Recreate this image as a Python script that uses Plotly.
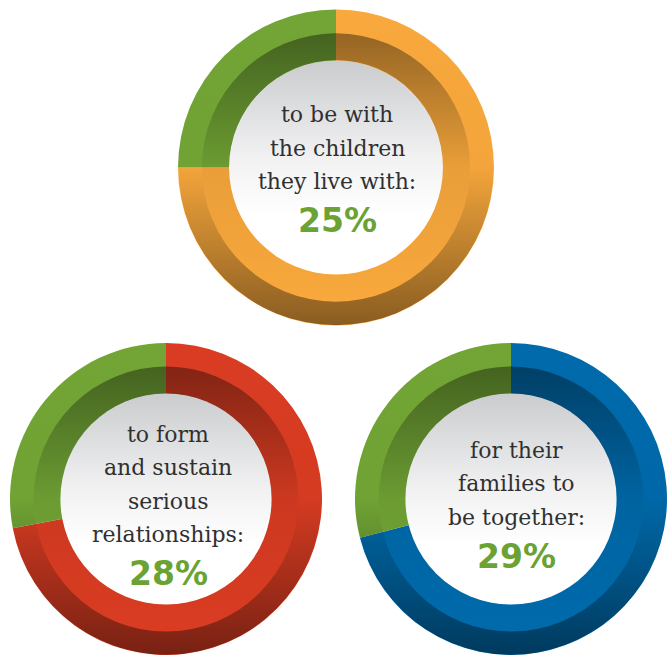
import base64
import plotly.graph_objects as go

W, H = 667, 655

# ---- data -------------------------------------------------------------
captions = [
    ["to be with", "the children", "they live with:"],
    ["to form", "and sustain", "serious", "relationships:"],
    ["for their", "families to", "be together:"],
]
shares = [25, 28, 29]                     # percent answering
rest = [100 - s for s in shares]
share_labels = [f"{s}%" for s in shares]

ring_colors = ["#f8a83c", "#d93c22", "#006aab"]
share_color = "#72a535"
pct_text_color = "#6aa333"
caption_color = "#303030"

# ---- layout (pixel boxes of each ring) ---------------------------------
boxes = [  # x0, x1, y0 (top), y1 (bottom)
    (178, 494, 9.5, 325.5),
    (7, 325, 343, 655),
    (355, 667, 343, 655),
]
first_line_y = [115, 434, 450]
pct_y = [220.5, 573.5, 556.5]
text_x = [337, 168, 516]
line_step = 33.5

HOLE = 107 / 159      # white centre
MID = 135 / 159       # split between inner and outer band


def ring_path(c, r):
    return (f"M{c - r:.2f},{c:.2f} a{r:.2f},{r:.2f} 0 1,0 {2 * r:.2f},0 "
            f"a{r:.2f},{r:.2f} 0 1,0 {-2 * r:.2f},0 Z ")


def shading_uri(R):
    """Soft vertical shading for the two bands plus the grey-to-white centre."""
    d = 2 * R
    r_in, r_mid = R * HOLE, R * MID
    ro = R - 0.4
    svg = f"""<svg xmlns="http://www.w3.org/2000/svg" width="{d:.2f}" height="{d:.2f}" viewBox="0 0 {d:.2f} {d:.2f}">
<defs>
<linearGradient id="gi" gradientUnits="userSpaceOnUse" x1="0" y1="{R - r_mid:.2f}" x2="0" y2="{R + r_mid:.2f}">
<stop offset="0" stop-color="#000" stop-opacity="0.40"/>
<stop offset="0.5" stop-color="#000" stop-opacity="0.06"/>
<stop offset="1" stop-color="#000" stop-opacity="0"/>
</linearGradient>
<linearGradient id="go" gradientUnits="userSpaceOnUse" x1="0" y1="0" x2="0" y2="{d:.2f}">
<stop offset="0" stop-color="#000" stop-opacity="0"/>
<stop offset="0.5" stop-color="#000" stop-opacity="0.02"/>
<stop offset="1" stop-color="#000" stop-opacity="0.45"/>
</linearGradient>
<linearGradient id="gc" gradientUnits="userSpaceOnUse" x1="0" y1="{R - r_in:.2f}" x2="0" y2="{R + r_in:.2f}">
<stop offset="0" stop-color="#caccce"/>
<stop offset="0.45" stop-color="#f1f1f2"/>
<stop offset="0.72" stop-color="#ffffff"/>
<stop offset="1" stop-color="#ffffff"/>
</linearGradient>
</defs>
<path fill="url(#gi)" fill-rule="evenodd" d="{ring_path(R, r_mid)}{ring_path(R, r_in)}"/>
<path fill="url(#go)" fill-rule="evenodd" d="{ring_path(R, ro)}{ring_path(R, r_mid)}"/>
<circle cx="{R:.2f}" cy="{R:.2f}" r="{r_in + 0.6:.2f}" fill="url(#gc)"/>
</svg>"""
    return "data:image/svg+xml;base64," + base64.b64encode(svg.encode()).decode()


fig = go.Figure()
images, annotations = [], []

for i, (x0, x1, y0, y1) in enumerate(boxes):
    # the remainder runs clockwise from 12 o'clock, so the share ends up
    # on the upper-left, closing the circle back at the top
    fig.add_trace(go.Pie(
        values=[rest[i], shares[i]],
        labels=["other", "yes"],
        marker=dict(colors=[ring_colors[i], share_color], line=dict(width=0)),
        hole=HOLE,
        sort=False,
        direction="clockwise",
        rotation=0,
        textinfo="none",
        hoverinfo="skip",
        showlegend=False,
        domain=dict(x=[x0 / W, x1 / W], y=[1 - y1 / H, 1 - y0 / H]),
    ))

    R = min(x1 - x0, y1 - y0) / 2
    cx, cy = (x0 + x1) / 2, (y0 + y1) / 2
    images.append(dict(
        source=shading_uri(R), xref="paper", yref="paper",
        x=(cx - R) / W, y=1 - (cy - R) / H,
        sizex=2 * R / W, sizey=2 * R / H,
        xanchor="left", yanchor="top", sizing="stretch", layer="above",
    ))

    for k, line in enumerate(captions[i]):
        annotations.append(dict(
            text=line, xref="paper", yref="paper",
            x=text_x[i] / W, y=1 - (first_line_y[i] + k * line_step) / H,
            xanchor="center", yanchor="middle", showarrow=False,
            font=dict(family="DejaVu Serif", size=22, color=caption_color),
        ))
    annotations.append(dict(
        text=share_labels[i], xref="paper", yref="paper",
        x=text_x[i] / W, y=1 - pct_y[i] / H,
        xanchor="center", yanchor="middle", showarrow=False,
        font=dict(family="DejaVu Sans", size=33, color=pct_text_color, weight="bold"),
    ))

fig.update_layout(
    width=W, height=H,
    margin=dict(l=0, r=0, t=0, b=0),
    paper_bgcolor="white",
    plot_bgcolor="white",
    images=images,
    annotations=annotations,
)

fig.write_html("out.html")
